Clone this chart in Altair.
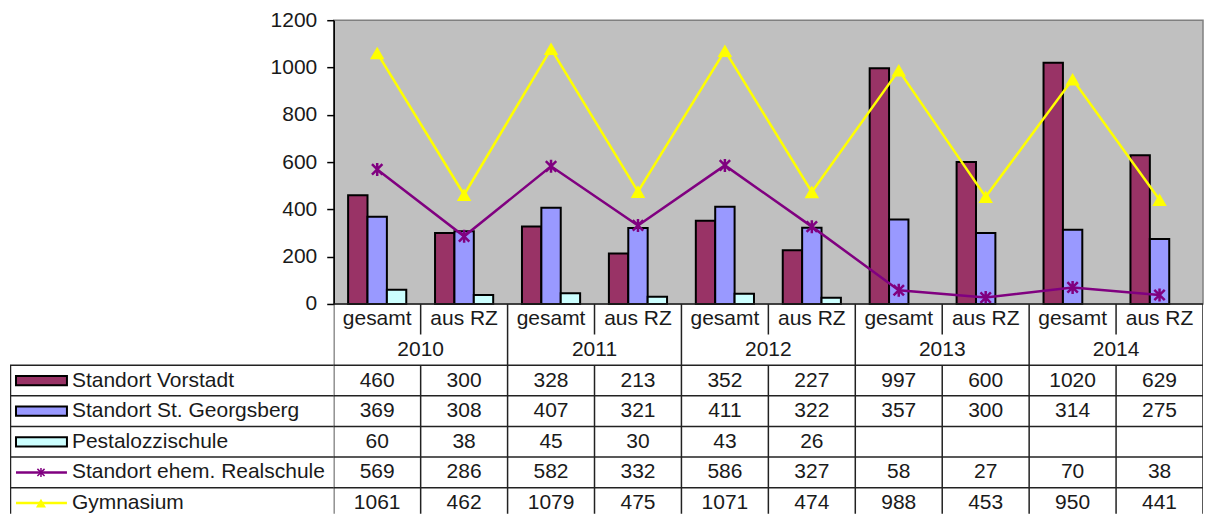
import altair as alt
import pandas as pd

years = ["2010", "2011", "2012", "2013", "2014"]
subs = ["gesamt", "aus RZ"]
series_names = ["Standort Vorstadt", "Standort St. Georgsberg", "Pestalozzischule",
                "Standort ehem. Realschule", "Gymnasium"]
bar_names = series_names[:3]
colors = ["#993366", "#9999FF", "#CCFFFF", "#800080", "#FFFF00"]

vorstadt = [460, 300, 328, 213, 352, 227, 997, 600, 1020, 629]
georgsberg = [369, 308, 407, 321, 411, 322, 357, 300, 314, 275]
pestalozzi = [60, 38, 45, 30, 43, 26, None, None, None, None]
realschule = [569, 286, 582, 332, 586, 327, 58, 27, 70, 38]
gymnasium = [1061, 462, 1079, 475, 1071, 474, 988, 453, 950, 441]
y_ticks = [0, 200, 400, 600, 800, 1000, 1200]

keys = [f"{y} {s}" for y in years for s in subs]
sub_of = [s for y in years for s in subs]

recs = []
for si, (name, vals) in enumerate(zip(series_names,
                                      [vorstadt, georgsberg, pestalozzi, realschule, gymnasium])):
    for i, v in enumerate(vals):
        if v is None:
            continue
        recs.append(dict(series=name, key=keys[i], idx=i, value=v, label=str(v),
                         row=si + 2, yc=si + 2.5))
df = pd.DataFrame(recs)

FONT = "Liberation Sans"
FS = 21
TXT = "#1a1a1a"
W_LAB = 324
W = 870
H = 284
TH = 210
TDOM = 6.85

# ---------------- plot ----------------
xband = alt.X("key:N", sort=keys,
              scale=alt.Scale(domain=keys, paddingInner=0.331, paddingOuter=0.1655),
              axis=None)
yval = alt.Y("value:Q", scale=alt.Scale(domain=[0, 1200], nice=False),
             axis=alt.Axis(values=y_ticks, format="d", title=None, grid=False,
                           domainColor="black", domainWidth=1.5, tickColor="black",
                           tickWidth=1.5, tickSize=7, labelFontSize=FS, labelColor=TXT,
                           labelPadding=10, labelFont=FONT))

bars = alt.Chart(df[df.series.isin(bar_names)]).mark_bar(stroke="black", strokeWidth=2).encode(
    x=xband,
    xOffset=alt.XOffset("series:N", sort=bar_names,
                        scale=alt.Scale(domain=bar_names, paddingInner=0, paddingOuter=0)),
    y=yval,
    color=alt.Color("series:N", scale=alt.Scale(domain=series_names, range=colors), legend=None),
)

star = "M0,-1V1M-0.8,-0.8L0.8,0.8M-0.8,0.8L0.8,-0.8"
real_df = df[df.series == series_names[3]]
gym_df = df[df.series == series_names[4]]
real_line = alt.Chart(real_df).mark_line(color="#800080", strokeWidth=2.5).encode(
    x=xband, y=yval, order="idx:Q")
real_pts = alt.Chart(real_df).mark_point(shape=star, size=170, filled=False, color="#800080",
                                         strokeWidth=2.5, opacity=1).encode(x=xband, y=yval)
gym_line = alt.Chart(gym_df).mark_line(color="#FFFF00", strokeWidth=2.5).encode(
    x=xband, y=yval, order="idx:Q")
gym_pts = alt.Chart(gym_df).mark_point(shape="triangle-up", size=210, filled=True,
                                       color="#FFFF00", opacity=1).encode(x=xband, y=yval)

plot = alt.layer(bars, real_line, real_pts, gym_line, gym_pts).properties(
    width=W, height=H,
    view=alt.ViewBackground(fill="#C0C0C0", stroke="#808080", strokeWidth=1.5))

# ---------------- table ----------------
tscale = alt.Scale(domain=keys, paddingInner=0, paddingOuter=0)
ty = alt.Scale(domain=[0, TDOM], reverse=True, nice=False, zero=False)
LINE = "#222222"

cat_df = pd.DataFrame({"key": keys, "text": sub_of, "y": 0.5})
year_df = pd.DataFrame({"key": [f"{y} gesamt" for y in years], "text": years, "y": 1.5})

vrec = []
for i, k in enumerate(keys):
    if i % 2 == 0:
        vrec.append(dict(key=k, y0=0, y1=7))
    else:
        vrec.append(dict(key=k, y0=0, y1=1))
        vrec.append(dict(key=k, y0=2, y1=7))
vdf = pd.DataFrame(vrec)
edge_df = pd.DataFrame([dict(key=keys[-1], y0=0, y1=7)])
hdf = pd.DataFrame({"y": [0, 2, 3, 4, 5, 6]})

cat_text = alt.Chart(cat_df).mark_text(fontSize=FS, font=FONT, color=TXT).encode(
    x=alt.X("key:N", sort=keys, scale=tscale, axis=None),
    y=alt.Y("y:Q", scale=ty, axis=None), text="text:N")
year_text = alt.Chart(year_df).mark_text(fontSize=FS, font=FONT, color=TXT).encode(
    x=alt.X("key:N", sort=keys, scale=tscale, axis=None, bandPosition=1),
    y=alt.Y("y:Q", scale=ty, axis=None), text="text:N")
val_text = alt.Chart(df).mark_text(fontSize=FS, font=FONT, color=TXT).encode(
    x=alt.X("key:N", sort=keys, scale=tscale, axis=None),
    y=alt.Y("yc:Q", scale=ty, axis=None), text="label:N")
vrules = alt.Chart(vdf).mark_rule(color=LINE, strokeWidth=1.5, clip=True).encode(
    x=alt.X("key:N", sort=keys, scale=tscale, axis=None, bandPosition=0),
    y=alt.Y("y0:Q", scale=ty, axis=None), y2="y1:Q")
edge_rule = alt.Chart(edge_df).mark_rule(color=LINE, strokeWidth=1.5, clip=True).encode(
    x=alt.X("key:N", sort=keys, scale=tscale, axis=None, bandPosition=1),
    y=alt.Y("y0:Q", scale=ty, axis=None), y2="y1:Q")
hrules = alt.Chart(hdf).mark_rule(color=LINE, strokeWidth=1.5).encode(
    y=alt.Y("y:Q", scale=ty, axis=None))

table = alt.layer(hrules, vrules, edge_rule, cat_text, year_text, val_text).properties(
    width=W, height=TH, view=alt.ViewBackground(stroke="transparent"))

# ---------------- label column ----------------
leg_df = pd.DataFrame({"series": series_names, "row": [2, 3, 4, 5, 6],
                       "yc": [2.5, 3.5, 4.5, 5.5, 6.5],
                       "kind": ["bar", "bar", "bar", "line", "line"]})
leg_df["ytop"] = leg_df["yc"] - 0.15
leg_df["ybot"] = leg_df["yc"] + 0.15
lcolor = alt.Color("series:N", scale=alt.Scale(domain=series_names, range=colors), legend=None)

l_h = alt.Chart(pd.DataFrame({"y": [2, 3, 4, 5, 6]})).mark_rule(
    color=LINE, strokeWidth=1.5).encode(y=alt.Y("y:Q", scale=ty, axis=None))
l_v = alt.Chart(pd.DataFrame({"y0": [2], "y1": [7]})).mark_rule(
    color=LINE, strokeWidth=1.5, clip=True).encode(
    x=alt.value(0.5), y=alt.Y("y0:Q", scale=ty, axis=None), y2="y1:Q")
l_rect = alt.Chart(leg_df[leg_df.kind == "bar"]).mark_rect(stroke="black", strokeWidth=2).encode(
    x=alt.value(6), x2=alt.value(57),
    y=alt.Y("ytop:Q", scale=ty, axis=None), y2="ybot:Q", fill=lcolor)
l_line = alt.Chart(leg_df[leg_df.kind == "line"]).mark_rule(strokeWidth=2.5).encode(
    x=alt.value(6), x2=alt.value(57), y=alt.Y("yc:Q", scale=ty, axis=None), color=lcolor)
l_star = alt.Chart(leg_df[leg_df.series == series_names[3]]).mark_point(
    shape=star, size=80, filled=False, strokeWidth=1.5, opacity=1).encode(
    x=alt.value(31), y=alt.Y("yc:Q", scale=ty, axis=None), color=lcolor)
l_tri = alt.Chart(leg_df[leg_df.series == series_names[4]]).mark_point(
    shape="triangle-up", size=100, filled=True, opacity=1).encode(
    x=alt.value(31), y=alt.Y("yc:Q", scale=ty, axis=None), color=lcolor)
l_text = alt.Chart(leg_df).mark_text(fontSize=FS, font=FONT, color=TXT, align="left").encode(
    x=alt.value(62), y=alt.Y("yc:Q", scale=ty, axis=None), text="series:N")

labels = alt.layer(l_h, l_v, l_rect, l_line, l_star, l_tri, l_text).properties(
    width=W_LAB, height=TH, view=alt.ViewBackground(stroke="transparent"))

spacer = alt.Chart(pd.DataFrame({"a": [0]})).mark_point(opacity=0).encode(
    x=alt.X("a:Q", axis=None), y=alt.Y("a:Q", axis=None)).properties(
    width=W_LAB, height=H, view=alt.ViewBackground(stroke="transparent"))

chart = alt.concat(spacer, plot, labels, table, columns=2, spacing=0, bounds="flush").properties(
    padding={"left": 0, "top": 0, "right": 0, "bottom": 0},
    background="white",
).configure(font=FONT)

chart.save("out.html", embed_options={"renderer": "svg", "actions": False})
